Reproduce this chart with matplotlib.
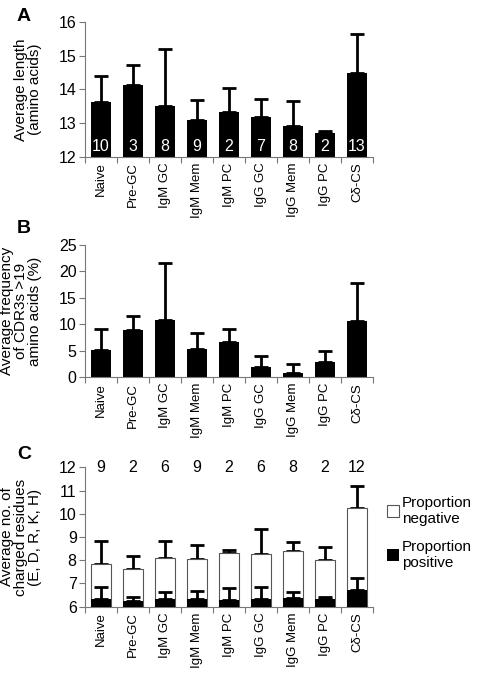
import matplotlib
matplotlib.use("Agg")
import matplotlib.pyplot as plt
import numpy as np

plt.rcParams['font.family'] = ['Liberation Sans', 'DejaVu Sans']

categories = ["Naive", "Pre-GC", "IgM GC", "IgM Mem", "IgM PC",
              "IgG GC", "IgG Mem", "IgG PC", "C\u03b4-CS"]

# Panel A: average CDR3 length
len_mean = [13.62, 14.13, 13.50, 13.10, 13.33, 13.17, 12.90, 12.70, 14.48]
len_err_top = [14.40, 14.72, 15.20, 13.68, 14.05, 13.72, 13.65, 12.77, 15.63]
len_n = [10, 3, 8, 9, 2, 7, 8, 2, 13]

# Panel B: frequency of CDR3s > 19 aa
freq_mean = [5.1, 8.9, 10.8, 5.4, 6.7, 2.0, 0.75, 2.95, 10.6]
freq_err_top = [9.2, 11.6, 21.6, 8.3, 9.2, 4.1, 2.5, 4.97, 17.8]

# Panel C: charged residues (total and positive part)
charge_total = [7.85, 7.64, 8.11, 8.07, 8.30, 8.25, 8.40, 8.00, 10.25]
charge_total_err = [8.83, 8.20, 8.84, 8.64, 8.45, 9.36, 8.80, 8.57, 11.19]
charge_pos = [6.32, 6.24, 6.32, 6.32, 6.27, 6.34, 6.37, 6.32, 6.70]
charge_pos_err = [6.83, 6.43, 6.65, 6.67, 6.79, 6.83, 6.62, 6.43, 7.25]
charge_n = [9, 2, 6, 9, 2, 6, 8, 2, 12]

x = np.arange(len(categories))
bw = 0.65
tick_fs = 11.5
cat_fs = 9.5
lab_fs = 11

fig = plt.figure(figsize=(4.8, 6.76), dpi=100)
L, W = 0.177, 0.6
axA = fig.add_axes([L, 0.768, W, 0.1995])
axB = fig.add_axes([L, 0.442, W, 0.1956])
axC = fig.add_axes([L, 0.1025, W, 0.2062])


def style(ax):
    for s in ["top", "right"]:
        ax.spines[s].set_visible(False)
    for s in ["left", "bottom"]:
        ax.spines[s].set_color("#777777")
        ax.spines[s].set_linewidth(0.8)
    ax.set_xlim(-0.5, len(categories) - 0.5)
    ax.set_xticks(x)
    ax.set_xticklabels(categories, rotation=90, fontsize=cat_fs)
    ax.tick_params(axis="x", which="major", length=0, pad=4)
    ax.set_xticks(np.arange(len(categories) + 1) - 0.5, minor=True)
    ax.tick_params(axis="x", which="minor", length=4, color="#777777", width=0.8)
    ax.tick_params(axis="y", length=4, color="#777777", width=0.8,
                   labelsize=tick_fs, pad=2)


def errs(ax, means, tops, z=1):
    up = np.array(tops) - np.array(means)
    ax.errorbar(x, means, yerr=[np.zeros_like(up), up], fmt="none",
                ecolor="black", elinewidth=2, capsize=5, capthick=2, zorder=z)


# Panel A
errs(axA, len_mean, len_err_top)
axA.bar(x, np.array(len_mean) - 12, bottom=12, width=bw, color="black", zorder=2)
for xi, n in zip(x, len_n):
    axA.text(xi, 12.3, str(n), color="white", ha="center", va="center",
             fontsize=tick_fs, zorder=3)
axA.set_ylim(12, 16)
axA.set_yticks([12, 13, 14, 15, 16])
style(axA)
axA.set_ylabel("Average length\n(amino acids)", fontsize=lab_fs, linespacing=1.0)

# Panel B
errs(axB, freq_mean, freq_err_top)
axB.bar(x, freq_mean, width=bw, color="black", zorder=2)
axB.set_ylim(0, 25)
axB.set_yticks([0, 5, 10, 15, 20, 25])
style(axB)
axB.set_ylabel("Average frequency\nof CDR3s >19\namino acids (%)",
               fontsize=lab_fs, linespacing=1.0)

# Panel C
errs(axC, charge_total, charge_total_err, z=1)
axC.bar(x, np.array(charge_total) - 6, bottom=6, width=bw, color="white",
        edgecolor="#555555", linewidth=0.8, zorder=2, label="Proportion\nnegative")
errs(axC, charge_pos, charge_pos_err, z=3)
axC.bar(x, np.array(charge_pos) - 6, bottom=6, width=bw, color="black",
        zorder=4, label="Proportion\npositive")
for xi, n in zip(x, charge_n):
    axC.text(xi, 12.0, str(n), ha="center", va="center", fontsize=tick_fs,
             clip_on=False)
axC.set_ylim(6, 12)
axC.set_yticks(range(6, 13))
style(axC)
axC.set_ylabel("Average no. of\ncharged residues\n(E, D, R, K, H)",
               fontsize=lab_fs, linespacing=1.0)
axC.legend(loc="center left", bbox_to_anchor=(1.0, 0.53), frameon=False,
           fontsize=lab_fs, handlelength=0.8, handleheight=0.8,
           handletextpad=0.2, labelspacing=0.9)

for ax in (axA, axB, axC):
    ax.yaxis.set_label_coords(-0.15, 0.5)

# Panel letters
fig.text(0.035, 0.975, "A", fontsize=14, fontweight="bold", va="center")
fig.text(0.035, 0.662, "B", fontsize=14, fontweight="bold", va="center")
fig.text(0.035, 0.327, "C", fontsize=14, fontweight="bold", va="center")

fig.savefig("out.png", dpi=100)
